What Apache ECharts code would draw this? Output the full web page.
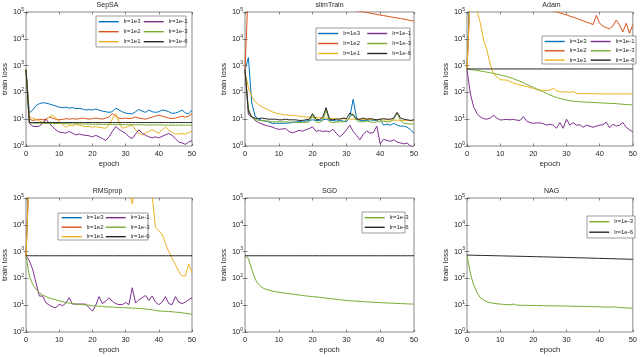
<!DOCTYPE html>
<html>
<head>
<meta charset="utf-8">
<script src="https://cdn.jsdelivr.net/npm/echarts@6/dist/echarts.min.js"></script>
<style>
  html, body { margin: 0; padding: 0; background: #fff; }
  #chart { width: 640px; height: 357px; }
</style>
</head>
<body>
<div id="chart"></div>
<script>
// epochs (x categories)
const epochs = [0,1,2,3,4,5,6,7,8,9,10,11,12,13,14,15,16,17,18,19,20,21,22,23,24,25,26,27,28,29,30,31,32,33,34,35,36,37,38,39,40,41,42,43,44,45,46,47,48,49,50];
const lrNames = ['lr=1e3', 'lr=1e2', 'lr=1e1', 'lr=1e-1', 'lr=1e-3', 'lr=1e-6'];
const lrColors = ['#0072BD', '#D95319', '#EDB120', '#7E2F8E', '#77AC30', '#262626'];
const panelTitles = ['SepSA', 'slimTrain', 'Adam', 'RMSprop', 'SGD', 'NAG'];
const xTicks = [0, 10, 20, 30, 40, 50];
const yTicks = [1, 10, 100, 1000, 10000, 100000];

// ---- SepSA ----
const sepsa1e3 = [700,17,22,32,38,41,40,37,34,31,28,27,28,26,27,25,25,24,22,23,22,24,22,20,19,18,19,26,22,19,17,16,16,19,23,20,18,22,19,18,19,22,21,19,16.5,17,19,22,17,16,22];
const sepsa1e2 = [700,10,9,9.5,10,9.5,10,12,11,10,9.5,9.8,10.5,10,10.5,10,10.5,11,10.5,10,10.5,11,10.5,10,11,12,16,13,11,10.5,11,10.5,11,12,11,10.5,10,11,12,13,14,13,12,11,10.5,11,12,13,12,13,16];
const sepsa1e1 = [700,12,11,10,8.5,7.5,9,12.5,14,11,8,6.5,5,6,5.5,6.5,6,5.5,5.2,5.5,5,5.3,5,4.8,4.6,6,10,16,8,4.6,5,5.5,6,4,3,2.6,3,3.5,4,3.5,3,4,5,4,3.2,2.8,2.8,2.9,2.8,3.2,3.5];
const sepsa1em1 = [700,7,5.5,5.3,5.5,7,10,7,5.2,4,3.3,3.2,3,3.5,3,2.6,2.8,2.6,2.5,2.4,2.2,2.5,2.2,1.9,1.6,2.2,3.5,5.3,4.2,3.5,3,2.2,1.9,2.8,4,3,2.5,2.2,2,2.2,2,2.3,2.6,2.9,2.5,1.9,1.4,1.3,1.15,1.4,1.6];
const sepsa1em3 = [700,7.2,7.2,7.1,7.1,7,7,7,6.9,6.9,6.9,6.8,6.8,6.8,6.7,6.7,6.7,6.6,6.6,6.6,6.5,6.5,6.5,6.4,6.4,6.4,6.4,6.3,6.3,6.3,6.3,6.2,6.2,6.2,6.2,6.2,6.1,6.1,6.1,6.1,6.1,6.1,6,6,6,6,6,6,6,6,6];
const sepsa1em6 = [700,7.5,7.5,7.5,7.5,7.5,7.5,7.5,7.5,7.5,7.5,7.5,7.5,7.5,7.5,7.5,7.5,7.5,7.5,7.5,7.5,7.5,7.5,7.5,7.5,7.5,7.5,7.5,7.5,7.5,7.5,7.5,7.5,7.5,7.5,7.5,7.5,7.5,7.5,7.5,7.5,7.5,7.5,7.5,7.5,7.5,7.5,7.5,7.5,7.5,7.5];

// ---- slimTrain ----
const slim1e3 = [700,2000,40,13,10,9,8.5,8,7,7,7,7,7,7.2,7.5,8,8,8.5,8.5,9,9.5,9,9,9.5,10,9,9,8.5,9,8.5,8,12,55,11,9,9,9,9.5,9,9,10,6,6.5,6,7,6,5.5,5.5,5,4,3];
const slim1e2 = [700,900000,800000,700000,620000,560000,520000,480000,450000,420000,400000,380000,360000,340000,320000,300000,285000,270000,255000,240000,225000,210000,200000,190000,180000,170000,160000,150000,142000,135000,128000,122000,116000,110000,105000,101000,96000,91000,86000,81000,77000,73000,70000,66000,63000,60000,57000,54000,51000,48000,46000];
const slim1e1 = [600,150,70,45,35,29,25,22,19,17,16,15,14.5,14,14,13.5,13,12.5,12,12,11.8,11.5,11.3,11,11,10.8,10.6,10.5,10.4,10.3,10.2,10.1,10,10,9.9,9.8,9.8,9.7,9.6,9.6,9.5,9.4,9.4,9.3,9.2,9.2,9.1,9,9,8.9,8.8];
const slim1em1 = [700,15,12,9,7.5,6.6,6,5.5,5.2,4.5,4.2,4.3,4.5,3.5,3.1,3.4,3.8,3.6,4,4.5,5.2,3.5,3.8,3.5,3.6,3.4,4.2,3,2.2,2.8,4,6,3.5,2.5,1.7,2.8,3.6,3,3.2,5.5,1.2,1.8,1.6,1.5,1.7,1.4,1.3,1.2,1.3,0.95,0.97];
const slim1em3 = [700,25,12,10,9,9,8.5,8.5,8,8,8,8,8,7.8,7.8,7.8,7.5,7.5,7.5,8,14,8,7.5,9,22,8,7.5,7.8,8,8,9,12,16,9,8,8,8.5,8,7.5,8,8,8.5,8,8,10,17,9,7,6.8,6.6,6.6];
const slim1em6 = [700,20,12,11,10.5,11,10.5,10,10,10,9.5,9.5,10,9.5,9.5,9.5,9,9,9.5,10,16,10,9.5,12,27,10,9.5,10,10,11,10.5,17,14,10,10,11,10,10.5,10,9.5,10,10.5,10,10,11,18,11,10,9.5,9,9.5];

// ---- Adam ----
const adam1e3 = [700,2000000,2000000,2000000,2000000,2000000,2000000,2000000,2000000,2000000,2000000,2000000,2000000,2000000,2000000,2000000,2000000,2000000,2000000,2000000,2000000,2000000,2000000,2000000,2000000,2000000,2000000,2000000,2000000,2000000,2000000,2000000,2000000,2000000,2000000,2000000,2000000,2000000,2000000,2000000,2000000,2000000,2000000,2000000,2000000,2000000,2000000,2000000,2000000,2000000,2000000];
const adam1e2 = [700,600000,550000,500000,470000,440000,410000,390000,370000,350000,330000,310000,295000,280000,265000,250000,235000,220000,205000,190000,175000,160000,150000,140000,130000,120000,110000,100000,92000,85000,78000,70000,64000,58000,52000,47000,42000,38000,34000,75000,38000,30000,26000,24000,30000,50000,32000,18000,38000,16000,34000];
const adam1e1 = [700,500000,400000,110000,40000,9000,3800,1100,500,380,300,290,290,250,220,205,190,175,165,150,142,130,122,120,118,122,142,115,105,105,105,100,108,92,90,90,90,89,89,89,88,88,88,88,88,88,88,88,88,88,88];
const adam1em1 = [700,92,29,16.5,12,10.5,10,11,14,11,9.3,9.6,9.8,9.5,9.8,9.2,9,12.5,8.5,7.5,7,7.2,7.3,6.8,6,6.5,6,4.6,7.5,4.6,10,6,7.5,6,6.2,5,6,5.5,5,5.5,6,6.2,7.7,4.8,6.5,5.5,6,7.5,5,4,3.4];
const adam1em3 = [750,720,690,660,630,600,570,540,510,480,450,420,390,360,325,290,260,230,200,175,155,135,118,105,92,80,72,65,60,55,52,49,47,46,45,44,43,42.5,42,41.5,41,40,39.5,39,38.5,38,37,36,35.5,35,34];
const adam1em6 = [750,750,750,750,750,750,750,750,750,750,750,750,750,750,750,750,750,750,750,750,750,750,750,750,750,750,750,750,750,750,750,750,750,750,750,750,750,750,750,750,750,750,750,750,750,750,750,750,750,750,750];

// ---- RMSprop ----
const rms1e3 = [700,2000000,2000000,2000000,2000000,2000000,2000000,2000000,2000000,2000000,2000000,2000000,2000000,2000000,2000000,2000000,2000000,2000000,2000000,2000000,2000000,2000000,2000000,2000000,2000000,2000000,2000000,2000000,2000000,2000000,2000000,2000000,2000000,2000000,2000000,2000000,2000000,2000000,2000000,2000000,2000000,2000000,2000000,2000000,2000000,2000000,2000000,2000000,2000000,2000000,2000000];
const rms1e2 = [700,2000000,2000000,2000000,2000000,2000000,2000000,2000000,2000000,2000000,2000000,2000000,2000000,2000000,2000000,2000000,2000000,2000000,2000000,2000000,2000000,2000000,2000000,2000000,2000000,2000000,2000000,2000000,2000000,2000000,2000000,2000000,2000000,2000000,2000000,2000000,2000000,2000000,2000000,2000000,2000000,2000000,2000000,2000000,2000000,2000000,2000000,2000000,2000000,2000000,2000000];
const rms1e1 = [700,1000000,1000000,1000000,1000000,1000000,1000000,1000000,1000000,1000000,1000000,1000000,1000000,1000000,1000000,1000000,1000000,1000000,1000000,1000000,1000000,1000000,1000000,1000000,1000000,1000000,1000000,1000000,1000000,1000000,1000000,300000,60000,300000,1000000,1000000,1000000,1000000,120000,8000,6000,4500,2000,1000,550,330,180,125,125,340,160];
const rms1em1 = [700,450,220,69,22,22,12.4,10,8.7,8,11,9.5,12,19,11,11,11,11,11,8,6,10,21,11.5,14,19,14,11.5,10.5,10.5,12.5,10.5,45,12,16,19,23,15,22,13,10.5,13,21,11.5,10.5,21,13,11.5,13,16,19];
const rms1em3 = [700,123,60,40,29,24,21,18.5,17,16,14.5,13.5,12.5,12,11.5,11,10.8,10.5,10.2,10,9.5,9.3,9.2,9,8.8,8.6,8.5,8.3,8.2,8.1,8,7.9,7.8,7.7,7.6,7.5,7.2,7,6.7,6.4,6.1,6,5.9,5.8,5.7,5.5,5.4,5.2,5,4.8,4.6];
const rms1em6 = [700,700,700,700,700,700,700,700,700,700,700,700,700,700,700,700,700,700,700,700,700,700,700,700,700,700,700,700,700,700,700,700,700,700,700,700,700,700,700,700,700,700,700,700,700,700,700,700,700,700,700];

// ---- SGD ----
const sgd1em3 = [700,550,220,95,60,46,40,37,34,32,30.5,29,28,27,26,25,24,23,22.2,21.5,21,20.3,19.7,19,18.4,17.8,17.2,16.6,16,15.5,15,14.7,14.4,14.1,13.8,13.5,13.3,13.1,12.9,12.7,12.5,12.3,12.1,12,11.8,11.7,11.5,11.4,11.2,11.1,11];
const sgd1em6 = [700,700,700,700,700,700,700,700,700,700,700,700,700,700,700,700,700,700,700,700,700,700,700,700,700,700,700,700,700,700,700,700,700,700,700,700,700,700,700,700,700,700,700,700,700,700,700,700,700,700,700];

// ---- NAG ----
const nag1em3 = [700,155,57,30,19,15.6,13.5,12.4,11.8,11.3,11,10.7,10.5,10.3,11,10.1,10,9.9,9.9,9.8,9.8,9.7,9.7,9.6,9.6,9.5,9.5,9.4,9.4,9.3,9.3,9.2,9.1,9.1,9,9,8.9,8.9,8.8,8.8,8.7,8.6,8.5,8.4,8.7,8.5,8.2,8.1,7.9,7.8,7.6];
const nag1em6 = [740,735,731,726,722,717,713,708,704,699,695,690,686,681,677,672,668,663,659,654,650,645,641,636,632,627,623,618,614,609,605,600,596,591,587,582,578,573,569,564,560,555,551,546,542,537,533,528,524,519,515];

// which lr (index into lrNames) each panel draws
const panelSeries = [
  [[0, sepsa1e3], [1, sepsa1e2], [2, sepsa1e1], [3, sepsa1em1], [4, sepsa1em3], [5, sepsa1em6]],
  [[0, slim1e3], [1, slim1e2], [2, slim1e1], [3, slim1em1], [4, slim1em3], [5, slim1em6]],
  [[0, adam1e3], [1, adam1e2], [2, adam1e1], [3, adam1em1], [4, adam1em3], [5, adam1em6]],
  [[0, rms1e3], [1, rms1e2], [2, rms1e1], [3, rms1em1], [4, rms1em3], [5, rms1em6]],
  [[4, sgd1em3], [5, sgd1em6]],
  [[4, nag1em3], [5, nag1em6]]
];

// layout (px)
const gridLefts = [23, 245, 467];
const gridTops = [12, 198];
const gridW = 169, gridH = 134;

// legend boxes: box rect, column x, first row centre, row pitch
const legendBoxes = [
  { x: 96, y: 16, w: 90, h: 31, cols: [98, 143], row0: 21.7, pitch: 10 },
  { x: 316, y: 28, w: 94, h: 32, cols: [317.5, 366.5], row0: 33.5, pitch: 10 },
  { x: 542, y: 36, w: 94, h: 28, cols: [544, 590], row0: 41.5, pitch: 9.3 },
  { x: 58, y: 213, w: 90, h: 27, cols: [61, 105], row0: 217.7, pitch: 9.5 },
  { x: 362, y: 212, w: 43, h: 21, cols: [364], row0: 217.7, pitch: 9.6 },
  { x: 587, y: 216, w: 48, h: 22, cols: [588.5], row0: 221.7, pitch: 10.5 }
];

const FONT = '"Liberation Sans", Arial, Helvetica, sans-serif';
const TXT = '#262626';

const grids = [], xAxes = [], yAxes = [], titles = [], legends = [], series = [], boxes = [];

for (let p = 0; p < 6; p++) {
  const left = gridLefts[p % 3];
  const top = gridTops[Math.floor(p / 3)];
  grids.push({
    left: left, top: top, width: gridW, height: gridH,
    show: true, borderColor: '#3a3a3a', borderWidth: 0.6, backgroundColor: '#fff'
  });
  titles.push({
    text: panelTitles[p], left: left + gridW / 2, top: top - 10.5, textAlign: 'center', padding: 0,
    textStyle: { fontSize: 7, fontWeight: 'normal', color: TXT, fontFamily: FONT }
  });
}

const tickStyle = { inside: true, length: 2.5, lineStyle: { color: '#3a3a3a', width: 0.6 } };

// main axes 0..5
for (let p = 0; p < 6; p++) {
  xAxes.push({
    type: 'value', gridIndex: p, min: 0, max: 50, interval: 10,
    axisLine: { show: false }, axisTick: tickStyle, splitLine: { show: false },
    axisLabel: {
      fontSize: 7.5, color: TXT, fontFamily: FONT, margin: 4,
      formatter: (v) => (xTicks.indexOf(v) >= 0 ? String(v) : '')
    },
    name: 'epoch', nameLocation: 'middle', nameGap: 14,
    nameTextStyle: { fontSize: 7.5, color: TXT, fontFamily: FONT }
  });
  yAxes.push({
    type: 'log', logBase: 10, gridIndex: p, min: 1, max: 100000, splitNumber: 5,
    axisLine: { show: false }, axisTick: tickStyle, splitLine: { show: false },
    axisLabel: {
      fontSize: 7.5, color: TXT, fontFamily: FONT, margin: 2,
      formatter: (v) => (yTicks.indexOf(v) >= 0 ? '10{s|' + Math.round(Math.log10(v)) + '}' : ''),
      rich: { s: { fontSize: 5, fontFamily: FONT, color: TXT, verticalAlign: 'top', padding: [0, 0, 5, 0] } }
    },
    name: 'train loss', nameLocation: 'middle', nameGap: 17,
    nameTextStyle: { fontSize: 8, color: TXT, fontFamily: FONT }
  });
}
// mirrored ticks (box on): top and right, 6..11
for (let p = 0; p < 6; p++) {
  xAxes.push({
    type: 'value', gridIndex: p, min: 0, max: 50, interval: 10, position: 'top',
    axisLine: { show: false }, axisTick: tickStyle, axisLabel: { show: false }, splitLine: { show: false }
  });
  yAxes.push({
    type: 'log', logBase: 10, gridIndex: p, min: 1, max: 100000, splitNumber: 5, position: 'right',
    axisLine: { show: false }, axisTick: tickStyle, axisLabel: { show: false }, splitLine: { show: false }
  });
}

for (let p = 0; p < 6; p++) {
  panelSeries[p].forEach(([lr, vals]) => {
    series.push({
      name: lrNames[lr], type: 'line', xAxisIndex: p, yAxisIndex: p,
      data: epochs.map((e, i) => [e, vals[i]]),
      symbol: 'none', clip: true, animation: false,
      lineStyle: { color: lrColors[lr], width: 1 },
      itemStyle: { color: lrColors[lr] }
    });
  });

  const lb = legendBoxes[p];
  boxes.push({
    type: 'rect', z: 3,
    shape: { x: lb.x, y: lb.y, width: lb.w, height: lb.h },
    style: { fill: '#fff', stroke: '#3a3a3a', lineWidth: 0.5 }
  });
  const names = panelSeries[p].map(([lr]) => lrNames[lr]);
  const colSets = lb.cols.length === 2 ? [names.slice(0, 3), names.slice(3)] : [names];
  colSets.forEach((cn, c) => {
    legends.push({
      data: cn, orient: 'vertical', left: lb.cols[c], top: lb.row0 - 3.5,
      padding: 0, itemWidth: 20, itemHeight: 7, itemGap: lb.pitch - 7,
      selectedMode: false, z: 5,
      itemStyle: { opacity: 0 },
      lineStyle: { width: 1.4 },
      textStyle: { fontSize: 6, lineHeight: 7, color: TXT, fontFamily: FONT }
    });
  });
}

const chart = echarts.init(document.getElementById('chart'), null, { renderer: 'canvas' });
chart.setOption({
  animation: false,
  backgroundColor: '#fff',
  title: titles,
  grid: grids,
  xAxis: xAxes,
  yAxis: yAxes,
  legend: legends,
  graphic: { elements: boxes },
  series: series
});
</script>
</body>
</html>
